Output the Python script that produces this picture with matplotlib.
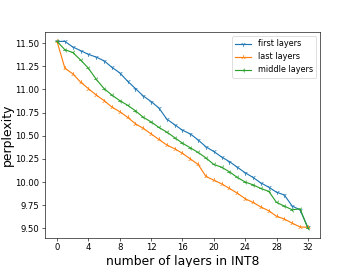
from matplotlib import pyplot as plt

layers = list(range(33))

first_layers = [11.52, 11.52, 11.46, 11.42, 11.38, 11.35, 11.31, 11.24, 11.18, 11.09,
                11.01, 10.93, 10.87, 10.80, 10.68, 10.62, 10.56, 10.52, 10.455, 10.38,
                10.33, 10.27, 10.22, 10.16, 10.10, 10.05, 9.99, 9.945, 9.89, 9.86,
                9.74, 9.70, 9.51]
last_layers = [11.52, 11.23, 11.17, 11.08, 11.01, 10.94, 10.88, 10.81, 10.76, 10.70,
               10.63, 10.58, 10.52, 10.46, 10.40, 10.36, 10.31, 10.25, 10.19, 10.06,
               10.02, 9.98, 9.93, 9.88, 9.82, 9.78, 9.73, 9.69, 9.63, 9.60,
               9.555, 9.515, 9.51]
middle_layers = [11.52, 11.43, 11.40, 11.32, 11.23, 11.11, 11.01, 10.94, 10.88, 10.83,
                 10.77, 10.70, 10.65, 10.59, 10.54, 10.48, 10.42, 10.37, 10.32, 10.26,
                 10.19, 10.16, 10.11, 10.05, 10.00, 9.97, 9.93, 9.90, 9.78, 9.74,
                 9.70, 9.71, 9.50]

xticks = [0, 4, 8, 12, 16, 20, 24, 28, 32]

if __name__ == '__main__':
    fig = plt.figure(figsize=(6.4, 4.8), dpi=55.625)

    plt.plot(layers, first_layers, marker="1", label="first layers")
    plt.plot(layers, last_layers, marker="2", label="last layers")
    plt.plot(layers, middle_layers, marker="3", label="middle layers")

    plt.xticks(xticks, fontsize=11)
    plt.yticks(fontsize=11)
    plt.xlabel("number of layers in INT8", fontsize=16)
    plt.ylabel("perplexity", fontsize=16, labelpad=2)

    plt.legend(fontsize=10.5)
    plt.savefig("out.png", dpi=55.625)
